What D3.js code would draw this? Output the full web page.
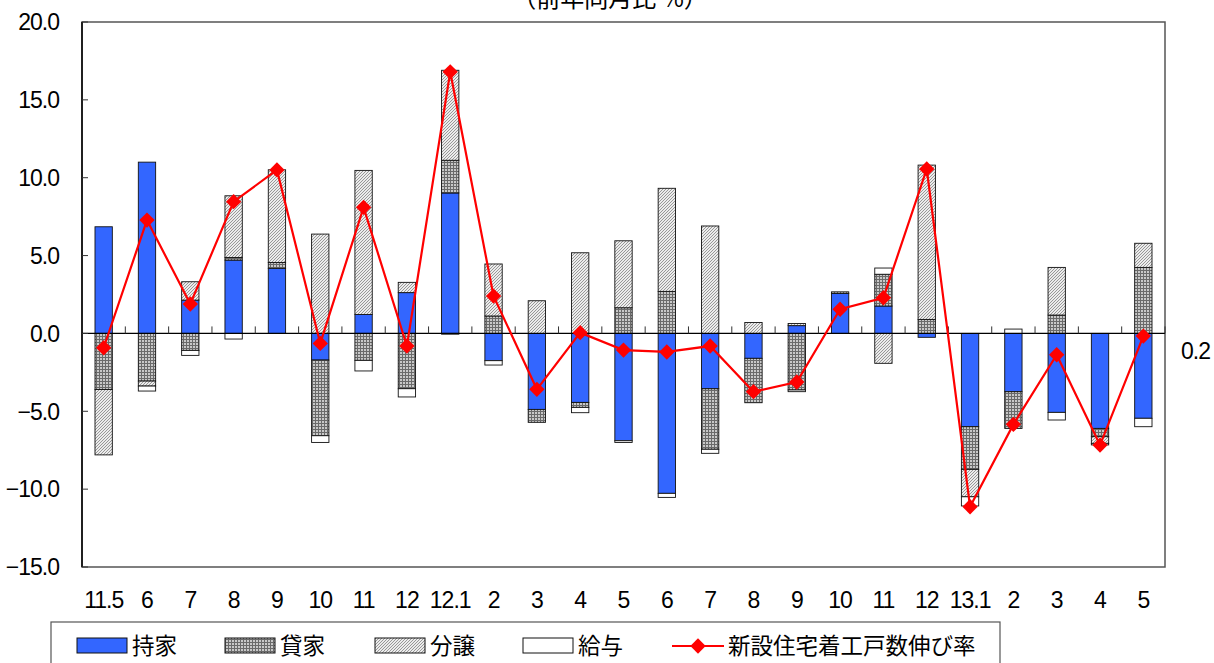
<!DOCTYPE html>
<html>
<head>
<meta charset="utf-8">
<script src="https://cdn.jsdelivr.net/npm/d3@7"></script>
<style>
  body { margin: 0; background: #fff; }
  text { font-family: "Liberation Sans", Arial, "Noto Sans CJK JP", sans-serif; fill: #000; }
  .jp { font-family: "Noto Sans CJK JP", "Liberation Sans", sans-serif; }
</style>
</head>
<body>
<div id="chart"></div>
<script>
// categories (year.month) and component contributions, % y/y
const categories = ["11.5","6","7","8","9","10","11","12","12.1","2","3","4","5","6","7","8","9","10","11","12","13.1","2","3","4","5"];
const mochiie = [6.85,11.0,2.14,4.71,4.18,-1.71,1.22,2.62,9.02,-1.75,-4.88,-4.43,-6.89,-10.27,-3.55,-1.6,0.5,2.57,1.76,-0.25,-5.99,-3.74,-5.07,-6.1,-5.45];
const kashiya = [-3.6,-3.06,-1.09,0.17,0.38,-4.86,-1.73,-3.55,2.1,1.12,-0.83,-0.32,1.65,2.7,-3.89,-2.85,-3.63,0.1,2.04,0.9,-2.74,-2.36,1.18,-0.53,4.24];
const bunjo   = [-4.2,-0.32,1.18,3.96,5.95,6.38,9.25,0.66,5.78,3.34,2.1,5.18,4.3,6.62,6.9,0.7,0.14,0,-1.92,9.91,-1.76,0,3.06,-0.43,1.55];
const kyuyo   = [0,-0.32,-0.32,-0.36,0,-0.43,-0.68,-0.53,-0.05,-0.28,0,-0.34,-0.11,-0.26,-0.26,0,-0.11,0,0.4,0,-0.59,0.28,-0.49,-0.1,-0.54];
const startsGrowth = [-0.92,7.28,1.89,8.46,10.5,-0.64,8.1,-0.81,16.8,2.4,-3.59,0.05,-1.07,-1.19,-0.81,-3.74,-3.12,1.55,2.29,10.56,-11.13,-5.84,-1.37,-7.17,-0.17];
const seriesNames = ["持家","貸家","分譲","給与"];
const lineName = "新設住宅着工戸数伸び率";
const yTicks = [20,15,10,5,0,-5,-10,-15];

const W = 1214, H = 663;
const plot = {left: 82, top: 22, right: 1165, bottom: 567};

const svg = d3.select("#chart").append("svg")
    .attr("width", W).attr("height", H);

// patterns for hatched series
const defs = svg.append("defs");
const grid = defs.append("pattern").attr("id", "grid")
    .attr("patternUnits", "userSpaceOnUse").attr("width", 3).attr("height", 3);
grid.append("rect").attr("width", 3).attr("height", 3).attr("fill", "#c8c8c8");
grid.append("path").attr("d", "M0,0.5H3M0.5,0V3").attr("stroke", "#6a6a6a").attr("stroke-width", 1);

const diag = defs.append("pattern").attr("id", "diag")
    .attr("patternUnits", "userSpaceOnUse").attr("width", 3).attr("height", 3);
diag.append("rect").attr("width", 3).attr("height", 3).attr("fill", "#ececec");
diag.append("path").attr("d", "M0,3L3,0M-1,1L1,-1M2,4L4,2").attr("stroke", "#8f8f8f").attr("stroke-width", 0.9);

const fills = ["#3366ff", "url(#grid)", "url(#diag)", "#ffffff"];

const xStep = (plot.right - plot.left) / categories.length;
const x = d3.scaleBand().domain(d3.range(categories.length))
    .range([plot.left, plot.right]);
const xc = i => x(i) + x.bandwidth() / 2;
const barW = xStep * 0.4;

const y = d3.scaleLinear().domain([-15, 20]).range([plot.bottom, plot.top]);

// stacked data
const rows = categories.map((c, i) => ({
    "持家": mochiie[i], "貸家": kashiya[i], "分譲": bunjo[i], "給与": kyuyo[i]
}));
const stacked = d3.stack().keys(seriesNames).offset(d3.stackOffsetDiverging)(rows);

// plot frame
svg.append("rect")
    .attr("x", plot.left).attr("y", plot.top)
    .attr("width", plot.right - plot.left).attr("height", plot.bottom - plot.top)
    .attr("fill", "none").attr("stroke", "#555").attr("stroke-width", 1.5);

// bars
stacked.forEach((layer, k) => {
    svg.append("g").selectAll("rect")
        .data(layer)
        .join("rect")
        .attr("x", (d, i) => xc(i) - barW / 2)
        .attr("width", barW)
        .attr("y", d => y(Math.max(d[0], d[1])))
        .attr("height", d => Math.abs(y(d[0]) - y(d[1])))
        .attr("fill", fills[k])
        .attr("stroke", "#111")
        .attr("stroke-width", 0.9);
});

// zero line and x ticks (pointing up from the zero line)
svg.append("line")
    .attr("x1", plot.left).attr("x2", plot.right)
    .attr("y1", y(0)).attr("y2", y(0))
    .attr("stroke", "#000").attr("stroke-width", 1.2);
svg.append("g").selectAll("line")
    .data(d3.range(1, categories.length + 1))
    .join("line")
    .attr("x1", i => plot.left + xStep * i).attr("x2", i => plot.left + xStep * i)
    .attr("y1", y(0)).attr("y2", y(0) - 7)
    .attr("stroke", "#333").attr("stroke-width", 1);

// y axis
const yAxis = svg.append("g");
yAxis.append("line")
    .attr("x1", plot.left).attr("x2", plot.left)
    .attr("y1", plot.top).attr("y2", plot.bottom)
    .attr("stroke", "#000").attr("stroke-width", 1.5);
yAxis.selectAll("line.t")
    .data(yTicks).join("line").attr("class", "t")
    .attr("x1", plot.left).attr("x2", plot.left + 6)
    .attr("y1", d => y(d)).attr("y2", d => y(d))
    .attr("stroke", "#333");
yAxis.selectAll("text")
    .data(yTicks).join("text")
    .attr("x", 59).attr("y", d => y(d))
    .attr("dy", "0.36em")
    .attr("text-anchor", "end")
    .style("font-size", "23px")
    .style("letter-spacing", "-1px")
    .text(d => d3.format(".1f")(d));

// category labels
svg.append("g").selectAll("text")
    .data(categories).join("text")
    .attr("x", (d, i) => xc(i)).attr("y", 600)
    .attr("dy", "0.36em")
    .attr("text-anchor", "middle")
    .style("font-size", "23px")
    .style("letter-spacing", "-1px")
    .text(d => d);

// growth line
const line = d3.line().x((d, i) => xc(i)).y(d => y(d));
svg.append("path")
    .datum(startsGrowth)
    .attr("d", line)
    .attr("fill", "none").attr("stroke", "#ff0000").attr("stroke-width", 2.2);
const diamond = d3.symbol().type(d3.symbolDiamond2).size(150);
svg.append("g").selectAll("path")
    .data(startsGrowth).join("path")
    .attr("transform", (d, i) => `translate(${xc(i)},${y(d)})`)
    .attr("d", diamond)
    .attr("fill", "#ff0000");

// title (partly cut off at the top, as in the source)
svg.append("text").attr("class", "jp")
    .attr("x", 610).attr("y", 7)
    .attr("text-anchor", "middle")
    .style("font-size", "24px")
    .text("（前年同月比 %）");

// right-hand label
svg.append("text")
    .attr("x", 1181).attr("y", 351)
    .attr("dy", "0.36em")
    .style("font-size", "23px")
    .style("letter-spacing", "-1px")
    .text("0.2");

// legend
svg.append("rect")
    .attr("x", 51).attr("y", 622)
    .attr("width", 949).attr("height", 60)
    .attr("fill", "#fff").attr("stroke", "#555").attr("stroke-width", 1.2);
const legendX = [77, 225, 375, 523];
seriesNames.forEach((name, k) => {
    svg.append("rect")
        .attr("x", legendX[k]).attr("y", 638)
        .attr("width", 50).attr("height", 15)
        .attr("fill", fills[k]).attr("stroke", "#111").attr("stroke-width", 1);
    svg.append("text").attr("class", "jp")
        .attr("x", legendX[k] + 55).attr("y", 646)
        .attr("dy", "0.36em")
        .style("font-size", "22.5px")
        .text(name);
});
svg.append("line")
    .attr("x1", 672).attr("x2", 724).attr("y1", 646).attr("y2", 646)
    .attr("stroke", "#ff0000").attr("stroke-width", 2.2);
svg.append("path")
    .attr("transform", "translate(698,646)")
    .attr("d", diamond).attr("fill", "#ff0000");
svg.append("text").attr("class", "jp")
    .attr("x", 728).attr("y", 646)
    .attr("dy", "0.36em")
    .style("font-size", "22.5px")
    .text(lineName);
</script>
</body>
</html>
